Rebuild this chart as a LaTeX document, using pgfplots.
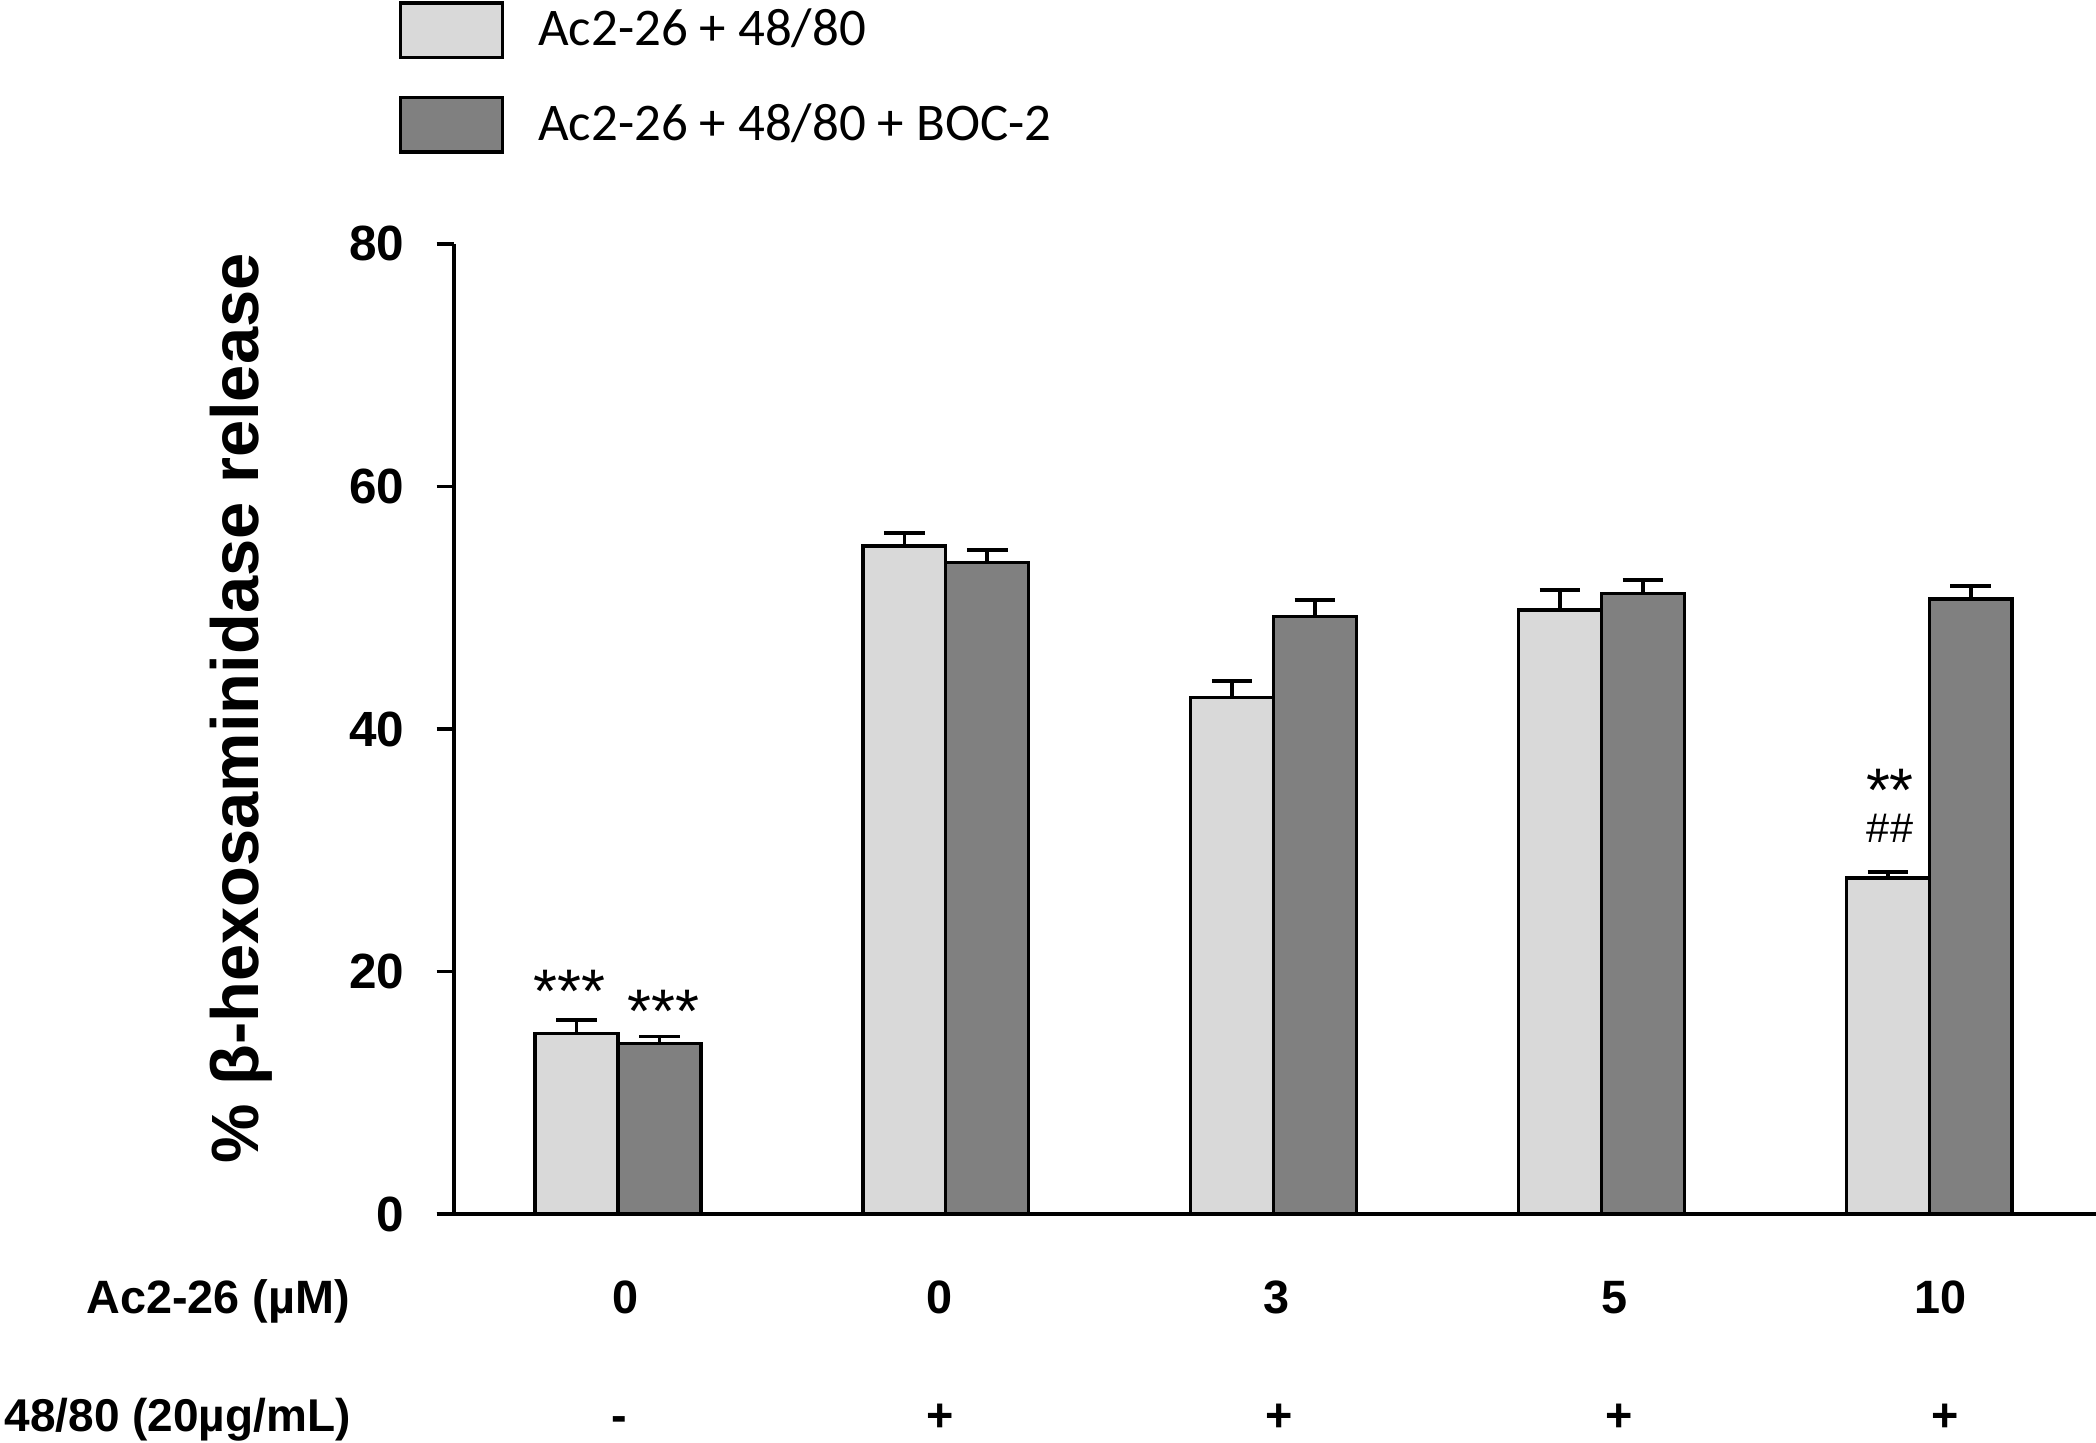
\documentclass[border=0pt]{standalone}
\usepackage{fontspec}
\setmainfont{Liberation Sans}
\newfontfamily\legendfont{Carlito}
\usepackage{pgfplots}
\pgfplotsset{compat=1.18}
\definecolor{lightbar}{RGB}{217,217,217}
\definecolor{darkbar}{RGB}{128,128,128}
\begin{document}
\begin{tikzpicture}
\path[use as bounding box] (0,0) rectangle (784pt,539.4pt);
\begin{axis}[
  at={(169.8pt,85.3pt)}, anchor=south west,
  width=614.4pt, height=362.85pt, scale only axis,
  xmin=-0.5, xmax=4.51, ymin=0, ymax=80,
  axis lines=left,
  x axis line style={-, line width=1.5pt, shorten <=-6.5pt},
  y axis line style={-, line width=1.3pt},
  xtick=\empty,
  ytick={0,20,40,60,80},
  tick align=outside, major tick length=6.5pt,
  tick style={line width=1.3pt, black},
  /pgf/number format/assume math mode=true,
  yticklabel style={font=\bfseries\fontsize{18.5}{20}\selectfont, inner sep=0pt, anchor=east, xshift=-11.8pt},
  ylabel={\% β-hexosaminidase release},
  every axis y label/.style={at={(axis description cs:-0.1193,0.5212)}, rotate=90, anchor=base, font=\bfseries\fontsize{25}{28}\selectfont},
  clip=false,
  legend style={at={(axis description cs:-0.0337,1.2504)}, anchor=north west, draw=none, fill=none, inner sep=0pt, outer sep=0pt,
    font=\legendfont\fontsize{19.8}{22}\selectfont, row sep=13.75pt,
    nodes={inner sep=0pt, text depth=0pt, text height=11.45pt},
    /tikz/every odd column/.append style={column sep=12.6pt}},
  legend cell align=left,
  legend image code/.code={\draw[#1, line width=1.3pt] (0pt,-10.2pt) rectangle (38.3pt,10.2pt);},
]
\addplot[ybar, bar width=31pt, bar shift=0pt, fill=lightbar, draw=black, line width=1.3pt,
  error bars/.cd, y dir=plus, y explicit,
  error bar style={line width=1.3pt, black},
  error mark options={rotate=90, line width=1.3pt, mark size=7.6pt, black}]
  coordinates {(-0.1264,14.90) +- (0,1.10) (0.8736,55.09) +- (0,1.08) (1.8736,42.59) +- (0,1.37) (2.8736,49.81) +- (0,1.65) (3.8736,27.70) +- (0,0.50)};
\addlegendentry{Ac2-26 + 48/80}
\addplot[ybar, bar width=31pt, bar shift=0pt, fill=darkbar, draw=black, line width=1.3pt,
  error bars/.cd, y dir=plus, y explicit,
  error bar style={line width=1.3pt, black},
  error mark options={rotate=90, line width=1.3pt, mark size=7.6pt, black}]
  coordinates {(0.1264,14.08) +- (0,0.55) (1.1264,53.72) +- (0,1.04) (2.1264,49.27) +- (0,1.37) (3.1264,51.19) +- (0,1.10) (4.1264,50.72) +- (0,1.07)};
\addlegendentry{Ac2-26 + 48/80 + BOC-2}
% significance marks
\node[anchor=base, inner sep=0pt, yshift=-13.1pt, font=\fontsize{23}{23}\selectfont] at (axis cs:-0.148,19.49) {***};
\node[anchor=base, inner sep=0pt, yshift=-13.1pt, font=\fontsize{23}{23}\selectfont] at (axis cs:0.138,17.88) {***};
\node[anchor=south, inner sep=0pt, align=center, font=\fontsize{15.5}{11.7}\selectfont] at (axis cs:3.880,30.60)
  {{\fontsize{23}{11.7}\selectfont **}\\\#\#};
\end{axis}
% category rows
\begin{scope}[every node/.style={font=\bfseries\fontsize{17.5}{19}\selectfont, inner sep=0pt}]
\node[anchor=base east] at (131.1pt,47.9pt) {Ac2-26 (µM)};
\node[anchor=base east, font=\bfseries\fontsize{17.2}{19}\selectfont] at (131.3pt,3.9pt) {48/80 (20µg/mL)};
\node[anchor=base] at (234pt,47.9pt) {0};
\node[anchor=base] at (351.5pt,47.9pt) {0};
\node[anchor=base] at (477.5pt,47.9pt) {3};
\node[anchor=base] at (604pt,47.9pt) {5};
\node[anchor=base] at (726pt,47.9pt) {10};
\node[anchor=base] at (231.5pt,3.9pt) {-};
\node[anchor=base] at (351.5pt,3.9pt) {+};
\node[anchor=base] at (478.5pt,3.9pt) {+};
\node[anchor=base] at (605.5pt,3.9pt) {+};
\node[anchor=base] at (727.5pt,3.9pt) {+};
\end{scope}
\end{tikzpicture}
\end{document}
